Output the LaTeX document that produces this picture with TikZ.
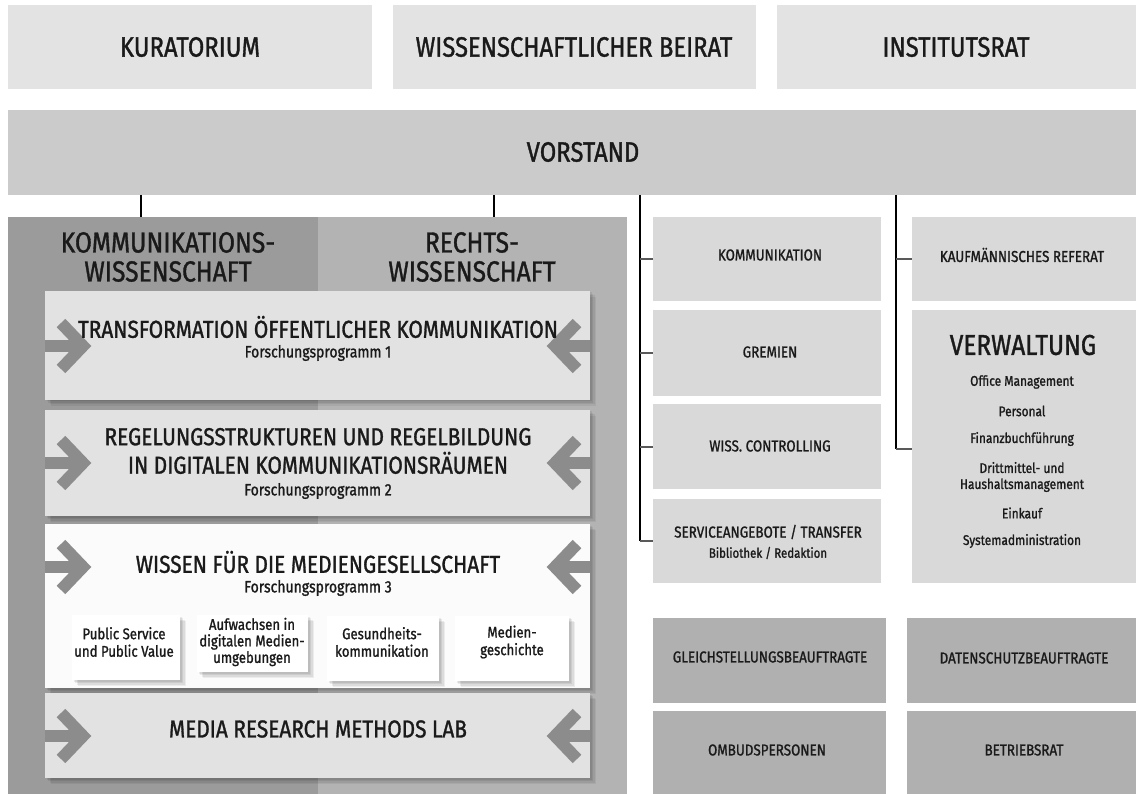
\documentclass[tikz,border=0pt]{standalone}
\usepackage{fontspec}
\setmainfont[FakeStretch=0.85, FakeBold=1.2]{Fira Sans}
\definecolor{topgray}{HTML}{E3E3E3}
\definecolor{vgray}{HTML}{CBCBCB}
\definecolor{kwgray}{HTML}{9B9B9B}
\definecolor{rwgray}{HTML}{B3B3B3}
\definecolor{fpgray}{HTML}{E2E2E2}
\definecolor{fpwhite}{HTML}{FBFBFB}
\definecolor{colgray}{HTML}{D9D9D9}
\definecolor{botgray}{HTML}{B0B0B0}
\definecolor{arrgray}{HTML}{8C8C8C}
\definecolor{txt}{HTML}{1A1A1A}
\newcommand{\mybox}[7][]{\node[box, fill=#7, minimum width=#5pt, minimum height=#6pt, #1] (#2) at (#3,#4) {};}
\begin{document}
\begin{tikzpicture}[x=1pt,y=-1pt,
  box/.style={draw=none, inner sep=0pt, outer sep=0pt, anchor=north west},
  softshadow/.style={
    preaction={fill=black, opacity=.07, transform canvas={xshift=1.5pt,yshift=-1.5pt}},
    preaction={fill=black, opacity=.07, transform canvas={xshift=3pt,yshift=-3pt}},
    preaction={fill=black, opacity=.07, transform canvas={xshift=4.5pt,yshift=-4.5pt}},
    preaction={fill=black, opacity=.06, transform canvas={xshift=6pt,yshift=-6pt}}},
  lbl/.style={text=txt, inner sep=0pt, align=center, font=\fontsize{#1}{#1}\selectfont},
  lbl/.default=15.8,
  vline/.style={draw=black, line width=2.6pt},
  tickline/.style={draw=black!65, line width=2pt},
  chev/.style={draw=arrgray, line width=12pt, miter limit=4}
]
\useasboundingbox (0,0) rectangle (1136,794);
\fill[white] (0,0) rectangle (1136,794);

% top row
\mybox{kur}{8}{5}{364}{84}{topgray}
\mybox{wbr}{393}{5}{363}{84}{topgray}
\mybox{irat}{777}{5}{359}{84}{topgray}
\mybox{vorstand}{8}{110}{1128}{85}{vgray}
\node[lbl=28] (tkur) at (190,47) {KURATORIUM};
\node[lbl=28] (twbr) at (574,47) {WISSENSCHAFTLICHER BEIRAT};
\node[lbl=28] (tirat) at (956,47) {INSTITUTSRAT};
\node[lbl=28] (tvor) at (583,152) {VORSTAND};

% left block
\mybox{kwbg}{8}{217}{310}{577}{kwgray}
\mybox{rwbg}{318}{217}{309}{577}{rwgray}
\node[lbl=29] (tkw) at (168,257) {KOMMUNIKATIONS-\\[0pt]WISSENSCHAFT};
\node[lbl=29] (trw) at (472,257) {RECHTS-\\[0pt]WISSENSCHAFT};

\mybox[softshadow]{fp1}{45}{291}{545}{109}{fpgray}
\mybox[softshadow]{fp2}{45}{410}{545}{106}{fpgray}
\mybox[softshadow]{fp3}{45}{524}{545}{164}{fpwhite}
\mybox[softshadow]{mrml}{45}{693}{545}{85}{fpgray}

\mybox[softshadow]{sub1}{72}{615}{108}{65}{white}
\mybox[softshadow]{sub2}{197}{615}{111}{57}{white}
\mybox[softshadow]{sub3}{327}{616}{112}{65}{white}
\mybox[softshadow]{sub4}{455}{616}{114}{65}{white}

% arrows
\foreach \yy/\nm in {346/a1,463/a2,567/a3,736/a4}{
  \draw[chev] (45,\yy) -- (84,\yy);
  \draw[chev] (61,\yy-23) -- (83,\yy) -- (61,\yy+23);
  \draw[chev] (590,\yy) -- (553,\yy);
  \draw[chev] (577,\yy-23) -- (555,\yy) -- (577,\yy+23);
}

\node[lbl=24.5] (tfp1) at (318,327) {TRANSFORMATION ÖFFENTLICHER KOMMUNIKATION};
\node[lbl=16.5] (sfp1) at (318,353) {Forschungsprogramm 1};
\node[lbl=24.5] (tfp2) at (318,451) {REGELUNGSSTRUKTUREN UND REGELBILDUNG\\[4pt]IN DIGITALEN KOMMUNIKATIONSRÄUMEN};
\node[lbl=16.5] (sfp2) at (318,491) {Forschungsprogramm 2};
\node[lbl=24.5] (tfp3) at (318,562) {WISSEN FÜR DIE MEDIENGESELLSCHAFT};
\node[lbl=16.5] (sfp3) at (318,588) {Forschungsprogramm 3};
\node[lbl=24.5] (tmrml) at (318,729) {MEDIA RESEARCH METHODS LAB};

\node[lbl=15.5] (ts1) at (124,642) {Public Service\\[2pt]und Public Value};
\node[lbl=15.5] (ts2) at (252,642) {Aufwachsen in\\[1pt]digitalen Medien-\\[1pt]umgebungen};
\node[lbl=15.5] (ts3) at (382,642) {Gesundheits-\\[2pt]kommunikation};
\node[lbl=15.5] (ts4) at (512,642) {Medien-\\[2pt]geschichte};

% middle column
\mybox{kom}{653}{217}{228}{84}{colgray}
\mybox{grem}{653}{310}{228}{86}{colgray}
\mybox{wiss}{653}{404}{228}{85}{colgray}
\mybox{serv}{653}{499}{228}{84}{colgray}
\node[lbl] (tkom) at (770,255) {KOMMUNIKATION};
\node[lbl] (tgrem) at (770,352) {GREMIEN};
\node[lbl] (twiss) at (770,446) {WISS. CONTROLLING};
\node[lbl] (tserv) at (768,532) {SERVICEANGEBOTE / TRANSFER};
\node[lbl=13.5] (tbib) at (768,553) {Bibliothek / Redaktion};

% right column
\mybox{kauf}{912}{217}{224}{84}{colgray}
\mybox{verw}{912}{310}{224}{273}{colgray}
\node[lbl] (tkauf) at (1022,255) {KAUFMÄNNISCHES REFERAT};
\node[lbl=28.7] (tverw) at (1023,345) {VERWALTUNG};
\node[lbl=14] (v1) at (1022,382) {Office Management};
\node[lbl=14] (v2) at (1022,411) {Personal};
\node[lbl=14] (v3) at (1022,439) {Finanzbuchführung};
\node[lbl=14] (v4) at (1022,477) {Drittmittel- und\\[2pt]Haushaltsmanagement};
\node[lbl=14] (v5) at (1022,513) {Einkauf};
\node[lbl=14] (v6) at (1022,541) {Systemadministration};

% bottom boxes
\mybox{gleich}{653}{618}{233}{85}{botgray}
\mybox{daten}{907}{618}{229}{85}{botgray}
\mybox{ombud}{653}{711}{233}{83}{botgray}
\mybox{betr}{907}{711}{229}{83}{botgray}
\node[lbl] (tgl) at (770,657) {GLEICHSTELLUNGSBEAUFTRAGTE};
\node[lbl] (tda) at (1024,658) {DATENSCHUTZBEAUFTRAGTE};
\node[lbl] (tom) at (767,750) {OMBUDSPERSONEN};
\node[lbl] (tbe) at (1024,750) {BETRIEBSRAT};

% connectors
\coordinate (c1) at (141,0);
\coordinate (c2) at (494,0);
\coordinate (cm) at (640,0);
\coordinate (cr) at (896,0);
\coordinate (crv) at (896,449);
\draw[vline] (c1 |- vorstand.south) -- (c1 |- kwbg.north);
\draw[vline] (c2 |- vorstand.south) -- (c2 |- rwbg.north);
\draw[vline] (cm |- vorstand.south) -- (cm |- serv.west);
\draw[tickline] (cm |- kom.west) -- (kom.west);
\draw[tickline] (cm |- grem.west) -- (grem.west);
\draw[tickline] (cm |- wiss.west) -- (wiss.west);
\draw[tickline] (cm |- serv.west) -- (serv.west);
\draw[vline] (cr |- vorstand.south) -- (crv);
\draw[tickline] (cr |- kauf.west) -- (kauf.west);
\draw[tickline] (crv) -- (crv -| verw.west);
\end{tikzpicture}
\end{document}
